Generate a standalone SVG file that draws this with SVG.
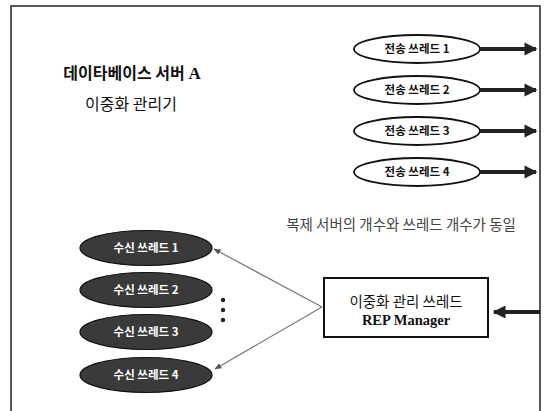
<svg xmlns="http://www.w3.org/2000/svg" width="545" height="411" viewBox="0 0 545 411">
<defs>
<style>
.t{font-family:"Noto Sans CJK KR","Liberation Sans",sans-serif;}
.tx{fill:#fff;stroke:#111;stroke-width:1.8;}
.rx{fill:#3a3a3a;stroke:#111;stroke-width:1.2;}
.tl{font-family:"Noto Sans CJK KR","Liberation Sans",sans-serif;font-size:11.5px;font-weight:bold;text-anchor:middle;fill:#111;}
.rl{font-family:"Noto Sans CJK KR","Liberation Sans",sans-serif;font-size:11.5px;font-weight:bold;text-anchor:middle;fill:#fff;}
.thick{stroke:#222;stroke-width:4;fill:none;}
.thin{stroke:#777;stroke-width:1.2;fill:none;}
</style>
<marker id="big" viewBox="0 0 10 10" refX="9" refY="5" markerWidth="3.2" markerHeight="3.4" orient="auto" markerUnits="strokeWidth">
<path d="M0,0 L10,5 L0,10 z" fill="#222"/>
</marker>
<marker id="small" viewBox="0 0 10 10" refX="9" refY="5" markerWidth="6" markerHeight="6" orient="auto" markerUnits="strokeWidth">
<path d="M0,1 L10,5 L0,9 z" fill="#555"/>
</marker>
</defs>
<rect width="545" height="411" fill="#fff"/>
<g id="frame" fill="none" stroke="#222" stroke-width="1.5">
<path d="M11,411 L11,6 L540,6 L540,411"/>
</g>
<g id="title">
<text class="t" x="132" y="79" font-size="16" font-weight="bold" text-anchor="middle" fill="#111">데이타베이스 서버 <tspan font-family="Liberation Serif,serif" font-size="17">A</tspan></text>
<text class="t" x="131" y="110" font-size="16" text-anchor="middle" fill="#111">이중화 관리기</text>
</g>
<g id="send1"><ellipse class="tx" cx="417" cy="49" rx="63" ry="14"/><text class="tl" x="417" y="53">전송 쓰레드 1</text></g>
<g id="send2"><ellipse class="tx" cx="417" cy="90" rx="63" ry="14"/><text class="tl" x="417" y="94">전송 쓰레드 2</text></g>
<g id="send3"><ellipse class="tx" cx="417" cy="131" rx="63" ry="14"/><text class="tl" x="417" y="135">전송 쓰레드 3</text></g>
<g id="send4"><ellipse class="tx" cx="417" cy="172" rx="63" ry="14"/><text class="tl" x="417" y="176">전송 쓰레드 4</text></g>
<g id="note"><text class="t" x="401" y="230" font-size="14.5" text-anchor="middle" fill="#444">복제 서버의 개수와 쓰레드 개수가 동일</text></g>
<g id="recv1"><ellipse class="rx" cx="146" cy="248" rx="66" ry="17.5"/><text class="rl" x="146" y="252">수신 쓰레드 1</text></g>
<g id="recv2"><ellipse class="rx" cx="146" cy="290" rx="66" ry="17.5"/><text class="rl" x="146" y="294">수신 쓰레드 2</text></g>
<g id="recv3"><ellipse class="rx" cx="146" cy="332" rx="66" ry="17.5"/><text class="rl" x="146" y="336">수신 쓰레드 3</text></g>
<g id="recv4"><ellipse class="rx" cx="146" cy="375" rx="66" ry="17.5"/><text class="rl" x="146" y="379">수신 쓰레드 4</text></g>
<g id="dots" fill="#222"><circle cx="223" cy="300" r="2.2"/><circle cx="223" cy="310" r="2.2"/><circle cx="223" cy="320" r="2.2"/></g>
<g id="manager">
<rect x="324" y="278" width="164" height="59" fill="#fff" stroke="#111" stroke-width="2"/>
<text class="t" x="406" y="307" font-size="14.5" text-anchor="middle" fill="#111">이중화 관리 쓰레드</text>
<text x="406" y="325" font-family="Liberation Serif,serif" font-size="14.5" font-weight="bold" text-anchor="middle" fill="#111">REP Manager</text>
</g>
<g id="connectors">
<line class="thick" x1="480" y1="49" x2="536" y2="49" marker-end="url(#big)"/>
<line class="thick" x1="480" y1="90" x2="536" y2="90" marker-end="url(#big)"/>
<line class="thick" x1="480" y1="131" x2="536" y2="131" marker-end="url(#big)"/>
<line class="thick" x1="480" y1="172" x2="536" y2="172" marker-end="url(#big)"/>
<line class="thick" x1="540" y1="312" x2="494" y2="312" marker-end="url(#big)"/>
<line class="thin" x1="322" y1="307" x2="214" y2="249" marker-end="url(#small)"/>
<line class="thin" x1="322" y1="307" x2="215" y2="369" marker-end="url(#small)"/>
</g>
</svg>
